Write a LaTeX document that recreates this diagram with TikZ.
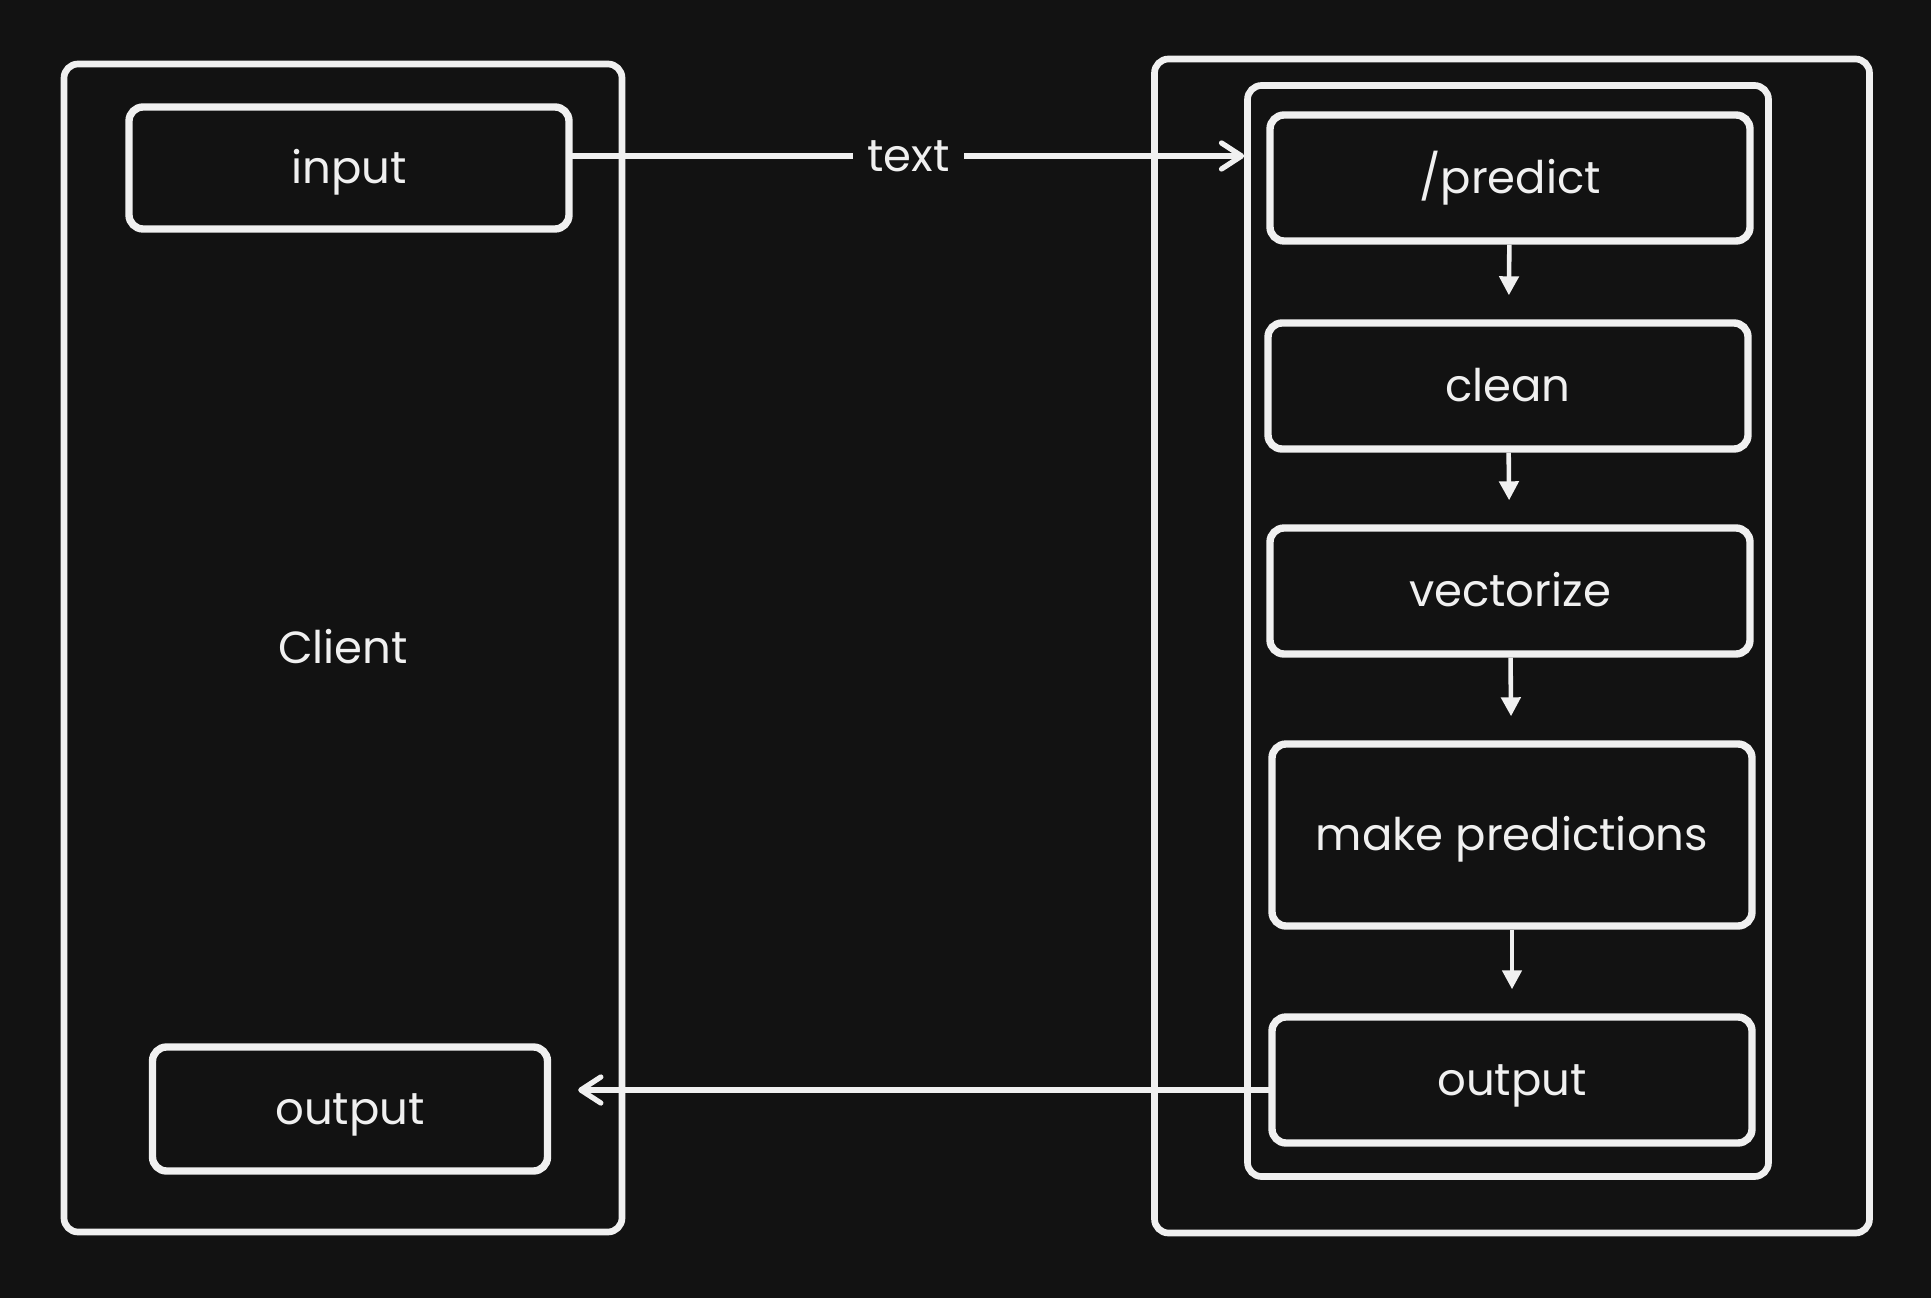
\documentclass[tikz,border=0pt]{standalone}
\usepackage{fontspec}
\setmainfont{Poppins}
\usepackage{tikz}
\usetikzlibrary{arrows.meta,positioning,backgrounds}
\definecolor{bgdark}{RGB}{18,18,18}
\definecolor{inkwhite}{RGB}{240,240,240}
\tikzset{
  base/.style={font=\fontsize{12.8}{15}\selectfont, align=center, inner sep=3pt, text=inkwhite, text height=0.9em, text depth=0pt},
  box/.style={base, rectangle, rounded corners=4pt, draw=inkwhite, line width=2.1pt, minimum width=4.8cm, minimum height=1.26cm},
  frame/.style={rectangle, rounded corners=4pt, draw=inkwhite, line width=1.9pt},
  arr/.style={-{Straight Barb[length=2mm,width=2.6mm,round]}, line width=1.5pt, draw=inkwhite, line cap=round},
  arrs/.style={-{Triangle[length=1.9mm,width=1.9mm]}, line width=1.3pt, draw=inkwhite, shorten >=2.4mm},
  lbl/.style={base, fill=bgdark, inner sep=4pt},
}
\begin{document}
\begin{tikzpicture}
  \fill[bgdark] (0,0) rectangle (19.31,12.98);
  % client
  \node[frame,base,minimum width=5.58cm,minimum height=11.68cm] (client) at (3.43,6.50) {Client};
  \node[box,minimum width=4.40cm,minimum height=1.22cm] (input) at (3.49,11.30) {input};
  \node[box,minimum width=3.95cm,minimum height=1.24cm] (cliout) at (3.50,1.89) {output};
  % server
  \node[frame,minimum width=7.15cm,minimum height=11.74cm] (server) at (15.12,6.52) {};
  \node[frame,minimum width=5.21cm,minimum height=10.91cm] (api) at (15.08,6.67) {};
  \node[box] (predict) at (15.10,11.20) {/predict};
  \node[box] (clean) at (15.08,9.12) {clean};
  \node[box] (vect) at (15.10,7.07) {vectorize};
  \node[box,minimum height=1.82cm] (make) at (15.12,4.63) {make predictions};
  \node[box] (srvout) at (15.12,2.18) {output};
  \foreach \a/\b in {predict/clean,clean/vect,vect/make,make/srvout}{\draw[arrs] (\a) -- (\b);}
  \draw[arr] ([yshift=1.2mm]input.east) -- ([yshift=1.2mm]input.east -| api.west) node[midway,lbl] {text};
  \draw[arr,shorten >=2.7mm] ([yshift=-1mm]srvout.west) -- ([yshift=-1mm]srvout.west -| cliout.east);
\end{tikzpicture}
\end{document}
